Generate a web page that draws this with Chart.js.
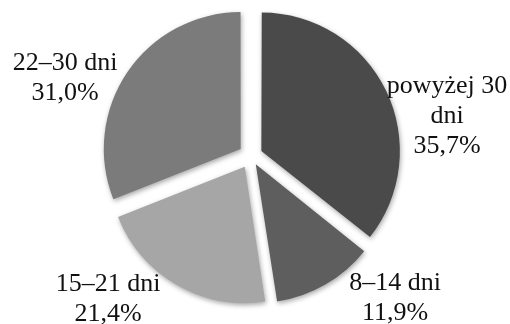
<!DOCTYPE html>
<html>
<head>
<meta charset="utf-8">
<script src="https://cdn.jsdelivr.net/npm/chart.js@4"></script>
<style>
  html,body{margin:0;padding:0;background:#fff;}
  #wrap{width:510px;height:324px;position:relative;}
</style>
</head>
<body>
<div id="wrap"><canvas id="ch"></canvas></div>
<script>
// dane
const categories=[['powyżej 30','dni'],['8–14 dni'],['15–21 dni'],['22–30 dni']];
const shares=[35.7,11.9,21.4,31.0];
const greys=['#4a4a4a','#5e5e5e','#a6a6a6','#7b7b7b'];

// label anchors, px from pie centre (first baseline)
const labelPos=[[196,-63],[144,134],[-143,135],[-186,-86]];

function shade(hex,f){
  const n=parseInt(hex.slice(1),16);
  const c=[(n>>16)&255,(n>>8)&255,n&255].map(v=>Math.max(0,Math.min(255,Math.round(v*f))));
  return `rgb(${c[0]},${c[1]},${c[2]})`;
}

const shadowPlugin={
  id:'shadow',
  beforeDatasetsDraw(chart){
    const ctx=chart.ctx;
    ctx.save();
    ctx.shadowColor='rgba(0,0,0,0.35)';
    ctx.shadowBlur=5;
    ctx.shadowOffsetX=1;
    ctx.shadowOffsetY=2;
  },
  afterDatasetsDraw(chart){ chart.ctx.restore(); }
};

const labelPlugin={
  id:'sliceLabels',
  afterDraw(chart){
    const ctx=chart.ctx;
    const arcs=chart.getDatasetMeta(0).data;
    ctx.save();
    ctx.font='26px "Liberation Serif", "Times New Roman", serif';
    ctx.fillStyle='#111';
    ctx.textAlign='center';
    ctx.textBaseline='alphabetic';
    arcs.forEach((a,i)=>{
      const lines=[...categories[i], shares[i].toFixed(1).replace('.',',')+'%'];
      const [dx,dy]=labelPos[i];
      lines.forEach((t,k)=>ctx.fillText(t,a.x+dx,a.y+dy+k*30));
    });
    ctx.restore();
  }
};

new Chart(document.getElementById('ch'),{
  type:'pie',
  data:{
    labels:categories.map(c=>c.join(' ')),
    datasets:[{
      data:shares,
      backgroundColor:c=>{
        const a=c.element, col=greys[c.dataIndex];
        if(!a || !a.outerRadius) return col;
        const g=c.chart.ctx.createRadialGradient(a.x,a.y,0,a.x,a.y,a.outerRadius+14);
        g.addColorStop(0,shade(col,1.04));
        g.addColorStop(0.82,col);
        g.addColorStop(1,shade(col,0.86));
        return g;
      },
      borderWidth:0,
      offset:[46,38,50,50],
      hoverOffset:0
    }]
  },
  options:{
    responsive:true,maintainAspectRatio:false,animation:false,
    radius:136,
    layout:{padding:{left:0,right:8,top:7,bottom:19}},
    events:[],
    plugins:{legend:{display:false},tooltip:{enabled:false}}
  },
  plugins:[shadowPlugin,labelPlugin]
});
</script>
</body>
</html>
